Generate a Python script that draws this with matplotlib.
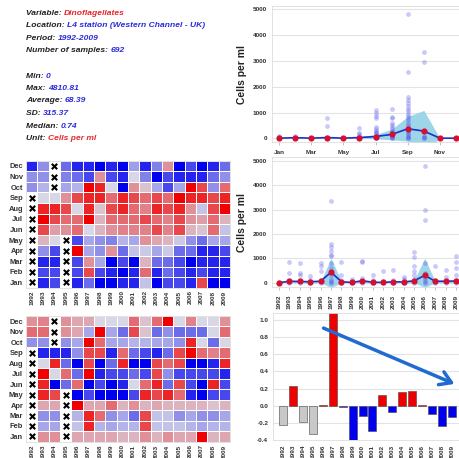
import numpy as np
import matplotlib.pyplot as plt
from matplotlib.colors import LinearSegmentedColormap
from matplotlib.patches import FancyArrowPatch
from matplotlib.text import Annotation

plt.rcParams['font.family'] = ['Liberation Sans', 'DejaVu Sans']
plt.rcParams['font.weight'] = 'bold'

N = np.nan
years = list(range(1992, 2010))
year_labels = [str(y) for y in years]
months = ['Jan', 'Feb', 'Mar', 'Apr', 'May', 'Jun', 'Jul', 'Aug', 'Sep', 'Oct', 'Nov', 'Dec']
month_ticks = ['Jan', 'Mar', 'May', 'Jul', 'Sep', 'Nov']

# info block: (label, value, value colour)
info_lines = [
    ('Variable: ', 'Dinoflagellates', 'red'),
    ('Location: ', 'L4 station (Western Channel - UK)', 'blue'),
    ('Period: ', '1992-2009', 'blue'),
    ('Number of samples: ', '692', 'blue'),
    ('Min: ', '0', 'blue'),
    ('Max: ', '4810.81', 'blue'),
    ('Average: ', '68.39', 'blue'),
    ('SD: ', '315.37', 'blue'),
    ('Median: ', '0.74', 'blue'),
    ('Unit: ', 'Cells per ml', 'red'),
]
info_y = [13.3, 25.7, 38.3, 51, 76, 88.7, 101, 113.3, 126, 138.3]

# samples by month (cells per ml)
month_samples = [
    [0, 0, 2, 5, 10, 20, 40, 80],
    [0, 0, 5, 10, 30, 60, 100],
    [0, 2, 5, 10, 20],
    [800, 480, 60, 30, 10, 0],
    [0, 5, 10, 20],
    [400, 200, 150, 100, 60, 30, 10, 0],
    [1100, 1000, 850, 800, 420, 380, 300, 250, 200, 150, 100, 50, 20, 0],
    [1130, 820, 780, 600, 500, 420, 350, 300, 250, 200, 150, 100, 50, 20, 0],
    [4800, 2580, 1600, 1500, 1350, 1250, 1150, 1050, 950, 850, 800, 700, 600,
     500, 420, 350, 280, 200, 150, 100, 60, 30, 0],
    [3350, 2960, 100, 60, 20, 0],
    [0, 5, 10],
    [0, 5, 10],
]
month_mean = [5, 25, 5, 30, 5, 30, 70, 150, 370, 280, 5, 5]
month_upper = [0, 20, 0, 40, 0, 50, 150, 350, 850, 1080, 0, 0]
month_lower = [0, 0, 0, 0, 0, 0, -20, -60, -110, -520, 0, 0]

# samples by year
year_samples = [
    [0, 5, 10],
    [850, 380, 100, 50, 20, 0],
    [800, 400, 300, 100, 50, 0],
    [280, 100, 50, 0],
    [800, 700, 500, 100, 50, 0],
    [3350, 1600, 1450, 1300, 1150, 1100, 800, 600, 300, 150, 80, 40, 0],
    [850, 300, 100, 30, 0],
    [150, 50, 0],
    [870, 850, 200, 80, 0],
    [300, 100, 20, 0],
    [480, 50, 0],
    [530, 120, 40, 0],
    [250, 150, 50, 0],
    [1250, 1050, 700, 500, 300, 150, 50, 0],
    [4800, 2980, 2580, 800, 400, 200, 100, 30, 0],
    [680, 100, 30, 0],
    [540, 250, 80, 0],
    [1100, 850, 600, 300, 100, 0],
]
year_mean = [0, 60, 50, 40, 60, 430, 40, 10, 80, 20, 10, 40, 30, 80, 300, 60, 60, 70]
year_upper = [0, 80, 60, 40, 60, 1000, 60, 0, 90, 30, 0, 40, 30, 120, 1000, 70, 60, 90]
year_lower = [0, 0, 0, 0, 0, -200, 0, 0, 0, 0, 0, 0, 0, 0, -200, 0, 0, 0]

# anomaly grids, rows Dec (top) -> Jan (bottom), columns 1992..2009
grid_a = [
    [-2.5, -1, N, -1.5, -2.5, -2.5, -3, -2.5, -3, -0.8, -2.5, -1.2, 1, -3, -2, -3, -2.5, -1.5],
    [-1, -1, N, -1.2, -1.5, -2, 1, -2, -2.5, 0, -1.2, -3, -2, -2.5, -2.5, -2.5, -1.5, -1],
    [-1, -0.5, N, -0.7, -0.5, 3, 2.5, 0, -3, 1, 0.3, -0.7, -2, -0.7, 3, 2, -1, 1.5],
    [N, 0, 0, 1, 2, 2.5, 2.5, 1.5, 2.5, 2, 1.5, 2, 1.5, 3, 2.5, 2.5, 2, 2.5],
    [N, 2.5, 2.5, 2, 0, 2.5, 0.3, 2, 2.5, 1.5, 1.2, 2.5, 2, 2.5, 1, -0.3, 2, 3],
    [N, 3, 2, 1.5, 1.5, 3, 0.5, 1.5, 1.5, 1.5, 2, 1.5, 1.2, 2, 1, 0.8, 1.5, 0.5],
    [N, 2, 0.8, 1, 1.5, 0, 0.5, 1, 1.2, 1.2, 1.2, 2, 1.2, 2, 0.5, 0.3, 1.5, -0.3],
    [N, 0.5, 0, N, -2, -0.7, -1, -1.2, -0.5, -0.7, 1, 0.7, 0.5, -0.2, -1, -1.5, -0.7, -0.7],
    [N, -1, -2, N, 3, -0.7, -1, 1, -1.5, -0.3, -0.2, -0.7, -0.2, -1.5, -1.5, -2.5, -2.5, -2],
    [N, -2.5, -2.5, N, -2, 1, -0.7, -3, -2, -3, 0.5, -1.5, -1.5, -2, -3, -2.5, -2.5, -2.5],
    [N, -2, -2, N, -2, 2, -2, -2.5, -3, -2.5, 1.5, -2.5, -1.5, -2, -2.5, -2, -2.5, -2.5],
    [N, -2.5, -2, N, -2.5, -1.5, -3, -3, -2.5, -2.5, -0.3, -3, -2, -2, -2.5, 2, -3, -3],
]
grid_b = [
    [1, 1.2, N, 1, 0.7, 0.7, 0, 0, 0, 1.5, 0.3, 1.5, 3, 0, 1.2, 0, 0, 1],
    [1.5, 1.5, N, 1, 0.7, -0.7, 3, -0.7, -1.5, 2, 0.3, -1.5, -1, -1.5, -1.5, -1.5, 0, 1.5],
    [-1, -1, N, -1, -0.7, 3, 1.5, -0.7, -0.7, -0.5, -0.5, -0.7, -0.7, -1, 2.5, 0, -1.5, 0],
    [N, -2.5, -2.5, -2.5, -1, 2, 2, -2.5, 1.5, -1.5, -2, -2.5, -1.5, 2, 3, 1.5, 1.2, 1.5],
    [N, 0, 2.5, -1.5, -3, 2, -3, -1.5, 2.5, -3, -3, 2, 1.5, 2, -3, -3, -2.5, 2.5],
    [N, 3, 0, 1.5, -1.5, 3, -2.5, -2, -2, -1.5, -2, 2, -1, -2, -2, -2, -2, -2.5],
    [N, 2.5, -3, -1.5, 1.5, -3, -2, -3, -2.5, 0, 1.5, 2.5, -1.5, 2, -2, -3, 2.5, -2],
    [N, 2.5, 2, N, -3, -2, -3, -3, -3, -2, 2.5, 2, 2.5, 1.5, -2.5, -3, -2, -2],
    [N, 0.7, 0.7, N, 3, 0.7, 0.7, 1.5, 0.5, 1, 0.5, 0.7, 0.5, 0.5, 0.5, 0.5, 0.3, 0.5],
    [N, -1, -1, N, -0.5, 2.5, 1.5, -1, -0.7, -1.5, 2, -0.3, -0.3, -1, -0.7, -1, -1, -0.7],
    [N, -0.7, -0.7, N, -0.3, 2.5, -0.5, -0.7, -0.5, -0.5, 2, -0.3, -0.3, -0.3, -0.5, -0.7, -0.5, -0.5],
    [N, 1, 1, N, 0.7, 0.7, 0.7, 0.7, 0.5, 0.5, 1, 0.5, 1, 0.7, 0.7, 3, 0.5, 0.7],
]

# yearly anomaly bars
bar_values = [-0.23, 0.23, -0.19, -0.33, 0.005, 1.08, -0.02, -0.42, -0.12, -0.30,
              0.13, -0.07, 0.16, 0.17, 0.01, -0.10, -0.24, -0.13]

W, H = 459, 458
fig = plt.figure(figsize=(W / 100, H / 100), dpi=100)
fig.patch.set_facecolor('white')


def box(x0, y0, x1, y1):
    return [x0 / W, 1 - y1 / H, (x1 - x0) / W, (y1 - y0) / H]


def bold_ticks(ax):
    for lab in ax.get_xticklabels() + ax.get_yticklabels():
        lab.set_fontweight('bold')


colors = {'red': '#e8262a', 'blue': '#2b2bdc'}
for (lab, val, col), y in zip(info_lines, info_y):
    t = fig.text(26 / W, 1 - y / H, lab, fontsize=6.1, style='italic',
                 fontweight='bold', color='#222222', va='center', ha='left')
    a = Annotation(val, xy=(1, 0.5), xycoords=t, va='center', ha='left',
                   fontsize=6.1, style='italic', fontweight='bold', color=colors[col])
    a.set_figure(fig)
    fig.add_artist(a)

cmap = LinearSegmentedColormap.from_list('anom', ['#0000f0', '#d8d8e6', '#f00000'])
grid_color = '#e3e3e3'
tick_kw = dict(labelsize=4.6, length=0, colors='#333333')


def scatter_panel(ax, samples, mean, upper, lower, ylim, xlim):
    xs = np.arange(len(samples))
    ax.fill_between(xs, lower, upper, color='#8ccfe6', alpha=0.85, lw=0, zorder=1)
    for i, vals in enumerate(samples):
        ax.scatter(np.full(len(vals), i), vals, s=12, color='#5a5af0', alpha=0.32,
                   lw=0, zorder=2)
    ax.plot(xs, mean, color='#1f2fc8', lw=1.2, zorder=3)
    ax.scatter(xs, mean, s=20, color='#d41030', lw=0, zorder=4)
    ax.set_ylim(*ylim)
    ax.set_xlim(*xlim)
    ax.set_yticks(range(0, 5001, 1000))
    ax.yaxis.grid(True, color=grid_color, lw=0.8)
    ax.set_axisbelow(True)
    ax.tick_params(**tick_kw)
    ax.tick_params(axis='x', length=2, width=0.5, color='#aaaaaa')
    for s in ax.spines.values():
        s.set_color('#dddddd')
        s.set_linewidth(0.6)
    ax.set_ylabel('Cells per ml', fontsize=7.4, fontweight='bold',
                  color='#222222', labelpad=4)


ax1 = fig.add_axes(box(272, 6, 462, 142))
scatter_panel(ax1, month_samples, month_mean, month_upper, month_lower,
              (-143, 5128), (-0.435, 11.37))
ax1.set_xticks(range(0, 12, 2))
ax1.set_xticklabels(month_ticks)
bold_ticks(ax1)

ax2 = fig.add_axes(box(272, 157, 462, 287))
scatter_panel(ax2, year_samples, year_mean, year_upper, year_lower,
              (-176, 5152), (-0.67, 17.58))
ax2.set_xticks(range(len(years)))
ax2.set_xticklabels(year_labels, rotation=90)
bold_ticks(ax2)


def heat_panel(ax, grid):
    g = np.array(grid, dtype=float)[::-1]
    ax.pcolormesh(g, cmap=cmap, vmin=-3, vmax=3, edgecolors='white', linewidth=0.7)
    rr, cc = np.where(np.isnan(g))
    ax.scatter(cc + 0.5, rr + 0.5, marker='x', s=15, color='black', linewidths=1.5)
    ax.set_xlim(0, len(years))
    ax.set_ylim(0, 12)
    ax.set_xticks(np.arange(len(years)) + 0.5)
    ax.set_xticklabels(year_labels, rotation=90)
    ax.set_yticks(np.arange(12) + 0.5)
    ax.set_yticklabels(months)
    ax.tick_params(axis='x', labelsize=4.6, length=0, colors='#333333', pad=2)
    ax.tick_params(axis='y', labelsize=5.4, length=0, colors='#333333', pad=2)
    bold_ticks(ax)
    for s in ax.spines.values():
        s.set_color('#dddddd')
        s.set_linewidth(0.6)


ax3 = fig.add_axes(box(26, 160.7, 230, 287.7))
heat_panel(ax3, grid_a)
ax4 = fig.add_axes(box(26, 316, 230, 441.7))
heat_panel(ax4, grid_b)

# bar panel
ax5 = fig.add_axes(box(273, 313, 462, 440))
incomplete = np.isnan(np.array(grid_a, dtype=float)).any(axis=0)
bar_colors = ['#c8c8c8' if inc else ('#ee0000' if v > 0 else '#0000ee')
              for v, inc in zip(bar_values, incomplete)]
ax5.bar(range(len(years)), bar_values, width=0.8, color=bar_colors,
        edgecolor='#444444', linewidth=0.4, zorder=2)
ax5.set_ylim(-0.4, 1.08)
ax5.set_xlim(-1.0, 18.0)
ticks5 = np.arange(-0.4, 1.01, 0.2)
ax5.set_yticks(ticks5)
ax5.set_yticklabels(['%.1f' % v for v in ticks5])
ax5.set_xticks(range(len(years)))
ax5.set_xticklabels(year_labels, rotation=90)
ax5.yaxis.grid(True, color=grid_color, lw=0.8)
ax5.set_axisbelow(True)
ax5.tick_params(**tick_kw)
bold_ticks(ax5)
for s in ax5.spines.values():
    s.set_color('#dddddd')
    s.set_linewidth(0.6)

arrow = FancyArrowPatch((321 / W, 1 - 327 / H), (457 / W, 1 - 385 / H),
                        transform=fig.transFigure,
                        arrowstyle='->,head_length=8,head_width=5',
                        color='#1f6bd0', lw=2.5, mutation_scale=1)
fig.add_artist(arrow)

fig.savefig('out.png', dpi=100)
